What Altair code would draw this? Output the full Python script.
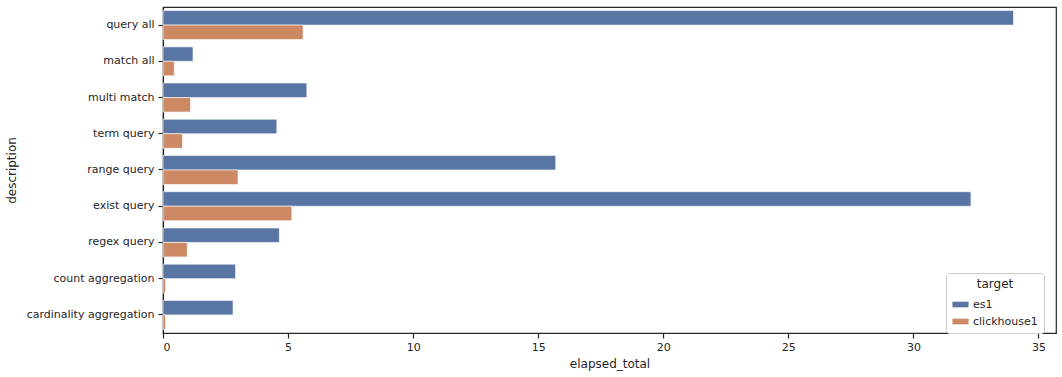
import altair as alt
import pandas as pd

descriptions = ["query all", "match all", "multi match", "term query", "range query",
                "exist query", "regex query", "count aggregation", "cardinality aggregation"]
targets = ["es1", "clickhouse1"]
es1_values = [34.0, 1.2, 5.75, 4.55, 15.7, 32.3, 4.65, 2.9, 2.8]
clickhouse1_values = [5.6, 0.45, 1.1, 0.78, 3.0, 5.15, 0.97, 0.1, 0.1]

rows = []
for d, a, b in zip(descriptions, es1_values, clickhouse1_values):
    rows.append({"description": d, "target": "es1", "elapsed_total": a})
    rows.append({"description": d, "target": "clickhouse1", "elapsed_total": b})
df = pd.DataFrame(rows)

FONT = "DejaVu Sans"
DARK = "#262626"

chart = alt.Chart(df).mark_bar(stroke="white", strokeWidth=0.6).encode(
    x=alt.X("elapsed_total:Q", title="elapsed_total",
            scale=alt.Scale(domain=[0, 35.7], nice=False, zero=True),
            axis=alt.Axis(values=[0, 5, 10, 15, 20, 25, 30, 35], format="d",
                          grid=False, tickSize=5, labelPadding=3, titlePadding=6)),
    y=alt.Y("description:N", title="description", sort=descriptions,
            scale=alt.Scale(paddingInner=0.2, paddingOuter=0.1),
            axis=alt.Axis(tickSize=5, labelPadding=4, titlePadding=8)),
    yOffset=alt.YOffset("target:N", sort=targets, scale=alt.Scale(paddingInner=0)),
    color=alt.Color("target:N", sort=targets,
                    scale=alt.Scale(domain=targets, range=["#5975a4", "#cc8963"]),
                    legend=alt.Legend(title="target", orient="none", legendX=783, legendY=266,
                                      titleAnchor="middle", titleFontWeight="normal",
                                      symbolType="M-1,-0.35L1,-0.35L1,0.35L-1,0.35Z",
                                      symbolSize=260, symbolStrokeWidth=0,
                                      fillColor="white", strokeColor="#cccccc",
                                      cornerRadius=3, padding=6, rowPadding=3,
                                      labelFontSize=11, titleFontSize=12)),
).properties(
    width=893, height=326,
    padding={"left": 5, "top": 7, "right": 5, "bottom": 5}
).configure_view(
    stroke=DARK, strokeWidth=1.2
).configure_axis(
    domainColor=DARK, tickColor=DARK, labelColor=DARK, titleColor=DARK,
    labelFont=FONT, titleFont=FONT, labelFontSize=11, titleFontSize=12,
    titleFontWeight="normal", domainWidth=1.2, tickWidth=1.2
).configure_legend(
    labelFont=FONT, titleFont=FONT, labelColor=DARK, titleColor=DARK
)

chart.save("out.html", embed_options={"renderer": "svg", "actions": False})
